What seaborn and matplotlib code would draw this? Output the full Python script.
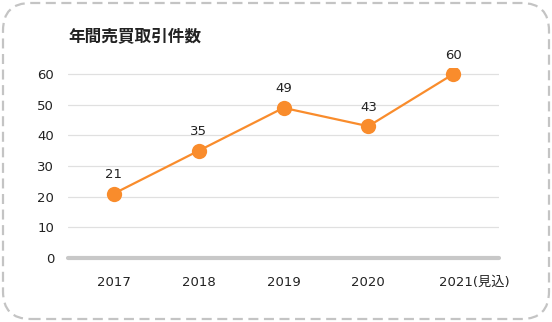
import matplotlib
matplotlib.use("Agg")
import matplotlib.pyplot as plt
import matplotlib.transforms as mtransforms
import seaborn as sns
import pandas as pd
from matplotlib.patches import FancyBboxPatch

categories = ["2017", "2018", "2019", "2020", "2021(見込)"]
values = [21, 35, 49, 43, 60]
yticks = [0, 10, 20, 30, 40, 50, 60]
title = "年間売買取引件数"

sns.set_theme(style="white")
plt.rcParams['font.family'] = ['DejaVu Sans', 'Noto Sans CJK JP']

df = pd.DataFrame({"year": categories, "count": values})

fig = plt.figure(figsize=(5.52, 3.22), dpi=100)
border = FancyBboxPatch((3/552, 3/322), 546/552, 316/322,
                        boxstyle="round,pad=0,rounding_size=0.05",
                        transform=fig.transFigure, fill=False,
                        edgecolor="#c4c4c4", linewidth=1.6, linestyle=(0, (4.5, 2.5)),
                        mutation_aspect=552/322)
fig.patches.append(border)

ax = fig.add_axes([68/552, 64/322, 431/552, 190/322])
color = "#F98C2C"
sns.lineplot(data=df, x="year", y="count", ax=ax, color=color, linewidth=1.6,
             marker="o", markersize=11, markeredgewidth=0, sort=False)

for i, v in enumerate(values):
    ax.annotate(str(v), (i, v), xytext=(0, 9), textcoords="offset points",
                ha="center", va="bottom", fontsize=9.5, color="#222222")

ax.set_xlim(-0.54, 4.54)
ax.set_ylim(0, 62)
ax.set_yticks(yticks)
ax.set_yticklabels([str(t) for t in yticks])
ax.grid(axis="y", color="#e0e0e0", linewidth=0.9)
ax.grid(axis="x", visible=False)
ax.axhline(0, color="#c8c8c8", linewidth=3, zorder=1, clip_on=False)
for s in ax.spines.values():
    s.set_visible(False)
ax.tick_params(axis="both", length=0, labelsize=9.5, labelcolor="#222222")
ax.tick_params(axis="y", pad=10)
ax.tick_params(axis="x", pad=13)
ax.set_xlabel("")
ax.set_ylabel("")
ax.set_facecolor("none")

# last label: "2021" centred on its tick, "(見込)" trailing
last = ax.get_xticklabels()[-1]
last.set_transform(last.get_transform() +
                   mtransforms.ScaledTranslation(21/100, 0, fig.dpi_scale_trans))

fig.text(68/552, 1 - 37/322, title, fontsize=12, fontweight="bold",
         color="#222222", ha="left", va="center",
         family=['Noto Sans CJK JP', 'DejaVu Sans'])

fig.savefig("out.png", dpi=100)
